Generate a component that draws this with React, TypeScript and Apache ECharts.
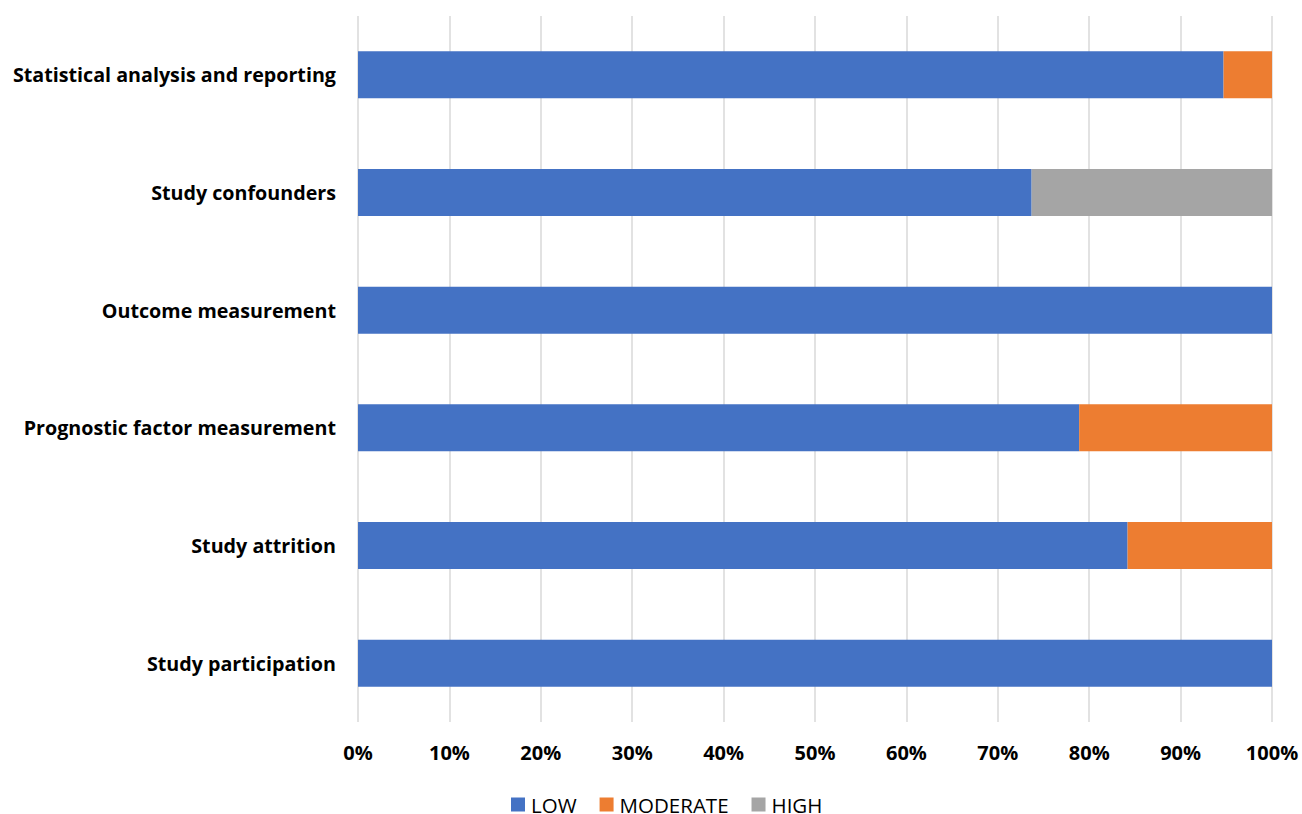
import React, { useEffect, useRef } from "react";
import * as echarts from "echarts";

const categories = [
  "Study participation",
  "Study attrition",
  "Prognostic factor measurement",
  "Outcome measurement",
  "Study confounders",
  "Statistical analysis and reporting",
];
const lowValues = [100, 84.2, 78.9, 100, 73.7, 94.7];
const moderateValues = [0, 15.8, 21.1, 0, 0, 5.3];
const highValues = [0, 0, 0, 0, 26.3, 0];
const seriesNames = ["LOW", "MODERATE", "HIGH"];
const colors = ["#4472C4", "#ED7D31", "#A5A5A5"];

export default function App() {
  const ref = useRef<HTMLDivElement>(null);
  useEffect(() => {
    const chart = echarts.init(ref.current!, undefined, { renderer: "svg" });
    const font = "'Open Sans', Calibri, sans-serif";
    const data = [lowValues, moderateValues, highValues];
    chart.setOption({
      animation: false,
      textStyle: { fontFamily: font },
      grid: { left: 358, right: 30, top: 16, bottom: 92, containLabel: false },
      legend: {
        top: 794,
        left: 511,
        padding: 0,
        itemWidth: 14,
        itemHeight: 14,
        itemGap: 23,
        icon: "rect",
        textStyle: { fontSize: 20.5, lineHeight: 19, color: "#000", fontFamily: font, padding: [0, 0, 0, 1] },
        data: seriesNames,
      },
      xAxis: {
        type: "value",
        min: 0,
        max: 100,
        interval: 10,
        axisLine: { show: false },
        axisTick: { show: false },
        splitLine: { lineStyle: { color: "#D9D9D9", width: 1.5 } },
        axisLabel: {
          formatter: "{value}%",
          fontSize: 20,
          fontWeight: "bold",
          color: "#000",
          margin: 20,
          fontFamily: font,
        },
      },
      yAxis: {
        type: "category",
        data: categories,
        axisLine: { show: false },
        axisTick: { show: false },
        axisLabel: {
          fontSize: 19.7,
          fontWeight: "bold",
          color: "#000",
          margin: 22,
          fontFamily: font,
        },
      },
      series: seriesNames.map((name, i) => ({
        name,
        type: "bar",
        stack: "total",
        barWidth: 47,
        itemStyle: { color: colors[i] },
        data: data[i],
      })),
    });
    return () => chart.dispose();
  }, []);
  return (
    <div
      ref={ref}
      style={{ position: "fixed", left: 0, top: 0, width: 1302, height: 814, background: "#fff" }}
    />
  );
}
